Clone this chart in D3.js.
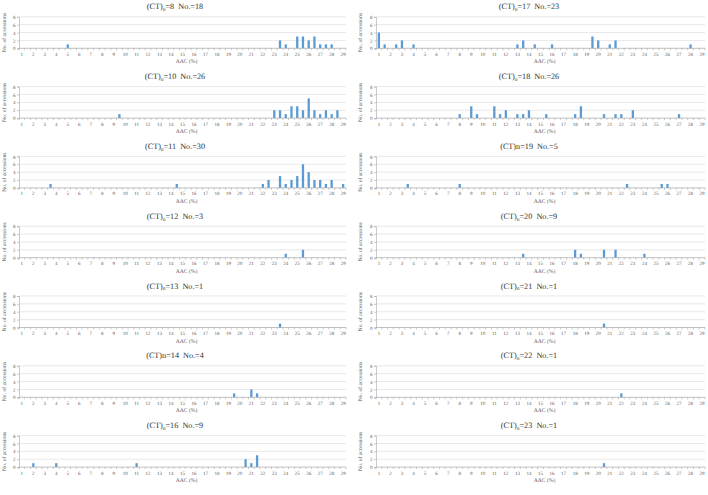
<!DOCTYPE html>
<html>
<head>
<meta charset="utf-8">
<script src="https://cdn.jsdelivr.net/npm/d3@7"></script>
<style>
  body { margin: 0; background: #fff; }
  svg text { font-family: "Liberation Serif", "Times New Roman", serif; }
</style>
</head>
<body>
<div id="chart"></div>
<script>
/** Categories on the x axis: AAC (%) in half-percent steps. */
const AAC = [1, 1.5, 2, 2.5, 3, 3.5, 4, 4.5, 5, 5.5, 6, 6.5, 7, 7.5, 8, 8.5, 9, 9.5,
  10, 10.5, 11, 11.5, 12, 12.5, 13, 13.5, 14, 14.5, 15, 15.5, 16, 16.5, 17, 17.5,
  18, 18.5, 19, 19.5, 20, 20.5, 21, 21.5, 22, 22.5, 23, 23.5, 24, 24.5, 25, 25.5,
  26, 26.5, 27, 27.5, 28, 28.5, 29];

/** Labelled ticks on the x axis. */
const X_TICKS = [1, 2, 3, 4, 5, 6, 7, 8, 9, 10, 11, 12, 13, 14, 15, 16, 17, 18, 19,
  20, 21, 22, 23, 24, 25, 26, 27, 28, 29];

/** Labelled ticks on the y axis. */
const Y_TICKS = [0, 2, 4, 6, 8];

// Number of accessions per AAC value, as [AAC, count] pairs (zeros left out)
const ct8 = [[5, 1], [23.5, 2], [24, 1], [25, 3], [25.5, 3], [26, 2], [26.5, 3], [27, 1], [27.5, 1], [28, 1]];
const ct10 = [[9.5, 1], [23, 2], [23.5, 2], [24, 1], [24.5, 3], [25, 3], [25.5, 2], [26, 5], [26.5, 2],
  [27, 1], [27.5, 2], [28, 1], [28.5, 2]];
const ct11 = [[3.5, 1], [14.5, 1], [22, 1], [22.5, 2], [23.5, 3], [24, 1], [24.5, 2], [25, 3], [25.5, 6],
  [26, 4], [26.5, 2], [27, 2], [27.5, 1], [28, 2], [29, 1]];
const ct12 = [[24, 1], [25.5, 2]];
const ct13 = [[23.5, 1]];
const ct14 = [[19.5, 1], [21, 2], [21.5, 1]];
const ct16 = [[2, 1], [4, 1], [11, 1], [20.5, 2], [21, 1], [21.5, 3]];
const ct17 = [[1, 4], [1.5, 1], [2.5, 1], [3, 2], [4, 1], [13, 1], [13.5, 2], [14.5, 1], [16, 1],
  [19.5, 3], [20, 2], [21, 1], [21.5, 2], [28, 1]];
const ct18 = [[8, 1], [9, 3], [9.5, 1], [11, 3], [11.5, 1], [12, 2], [13, 1], [13.5, 1], [14, 2],
  [15.5, 1], [18, 1], [18.5, 3], [20.5, 1], [21.5, 1], [22, 1], [23, 2], [27, 1]];
const ct19 = [[3.5, 1], [8, 1], [22.5, 1], [25.5, 1], [26, 1]];
const ct20 = [[13.5, 1], [18, 2], [18.5, 1], [20.5, 2], [21.5, 2], [24, 1]];
const ct21 = [[20.5, 1]];
const ct22 = [[22, 1]];
const ct23 = [[20.5, 1]];

/** Panel titles: repeat count, whether "n" is a subscript, and accession count. */
const panels = [
  { n: 8, sub: true, no: 18, data: ct8 },
  { n: 10, sub: true, no: 26, data: ct10 },
  { n: 11, sub: true, no: 30, data: ct11 },
  { n: 12, sub: true, no: 3, data: ct12 },
  { n: 13, sub: true, no: 1, data: ct13 },
  { n: 14, sub: false, no: 4, data: ct14 },
  { n: 16, sub: true, no: 9, data: ct16 },
  { n: 17, sub: true, no: 23, data: ct17 },
  { n: 18, sub: true, no: 26, data: ct18 },
  { n: 19, sub: false, no: 5, data: ct19 },
  { n: 20, sub: true, no: 9, data: ct20 },
  { n: 21, sub: true, no: 1, data: ct21 },
  { n: 22, sub: true, no: 1, data: ct22 },
  { n: 23, sub: true, no: 1, data: ct23 }
];

const WIDTH = 708;
const HEIGHT = 495;
const COL_W = 354;
const ROWS = 7;

/** Zero line of the first row and distance between rows. */
const ZERO0 = 48.3;
const ROW_STEP = 69.8;
const PLOT_H = 31.5;

/** Left and right edge of the plot area inside each column. */
const PLOT_L = [19, 22];
const PLOT_R = [346, 351];

const BAR = "#5b9bd5";
const GRID = "#d9d9d9";
const AXIS = "#a6a6a6";
const TEXT = "#595959";

const svg = d3.select("#chart").append("svg")
    .attr("width", WIDTH)
    .attr("height", HEIGHT)
    .attr("text-rendering", "geometricPrecision");

svg.append("rect")
    .attr("width", WIDTH)
    .attr("height", HEIGHT)
    .attr("fill", "#fff");

panels.forEach((p, k) => {
    const col = Math.floor(k / ROWS);
    const row = k % ROWS;
    const left = col * COL_W;
    const zero = ZERO0 + row * ROW_STEP;

    const x = d3.scaleBand()
        .domain(AAC)
        .range([left + PLOT_L[col], left + PLOT_R[col]])
        .paddingInner(0.6)
        .paddingOuter(0.3);
    const y = d3.scaleLinear()
        .domain([0, 8])
        .range([zero, zero - PLOT_H]);

    const g = svg.append("g");

    // Horizontal gridlines
    g.selectAll(".grid")
        .data(Y_TICKS.slice(1))
        .enter()
        .append("line")
        .attr("x1", x.range()[0])
        .attr("x2", x.range()[1])
        .attr("y1", d => y(d))
        .attr("y2", d => y(d))
        .attr("stroke", GRID)
        .attr("stroke-width", 0.6);

    // Bars
    g.selectAll(".bar")
        .data(p.data)
        .enter()
        .append("rect")
        .attr("x", d => x(d[0]))
        .attr("width", x.bandwidth())
        .attr("y", d => y(d[1]))
        .attr("height", d => y(0) - y(d[1]))
        .attr("fill", BAR);

    // Y axis
    const yAxis = g.append("g")
        .attr("transform", `translate(${x.range()[0]},0)`)
        .call(d3.axisLeft(y).tickValues(Y_TICKS).tickSize(2).tickPadding(1.5));
    yAxis.select(".domain").attr("stroke", AXIS).attr("stroke-width", 0.6);
    yAxis.selectAll(".tick line").attr("stroke", AXIS).attr("stroke-width", 0.6);
    yAxis.selectAll("text")
        .attr("font-size", 5)
        .attr("fill", TEXT)
        .style("font-family", "'Liberation Serif', serif");

    // X axis with labels on the integer categories
    const xAxis = g.append("g")
        .attr("transform", `translate(0,${zero})`)
        .call(d3.axisBottom(x).tickValues(X_TICKS).tickSize(0).tickPadding(4));
    xAxis.select(".domain").remove();
    xAxis.selectAll("text")
        .attr("font-size", 5)
        .attr("fill", TEXT)
        .style("font-family", "'Liberation Serif', serif");

    g.append("line")
        .attr("x1", x.range()[0])
        .attr("x2", x.range()[1])
        .attr("y1", zero)
        .attr("y2", zero)
        .attr("stroke", AXIS)
        .attr("stroke-width", 0.7);

    // Short tick marks between the categories
    g.selectAll(".xtick")
        .data(d3.range(AAC.length + 1))
        .enter()
        .append("line")
        .attr("x1", i => x.range()[0] + i * x.step())
        .attr("x2", i => x.range()[0] + i * x.step())
        .attr("y1", zero)
        .attr("y2", zero + 2)
        .attr("stroke", AXIS)
        .attr("stroke-width", 0.6);

    // Axis titles
    g.append("text")
        .attr("x", (x.range()[0] + x.range()[1]) / 2 + 4)
        .attr("y", zero + 15)
        .attr("text-anchor", "middle")
        .attr("font-size", 5.6)
        .attr("fill", TEXT)
        .text("AAC (%)");

    g.append("text")
        .attr("transform", `translate(${left + (col ? 8 : 6)},${y(4)}) rotate(-90)`)
        .attr("text-anchor", "middle")
        .attr("font-size", 5.6)
        .attr("fill", TEXT)
        .text("No. of accessions");

    // Panel title
    const title = g.append("text")
        .attr("x", left + COL_W / 2 - 2)
        .attr("y", zero - 39)
        .attr("text-anchor", "middle")
        .attr("font-size", 8.2)
        .attr("fill", "#333");
    title.append("tspan").text("(CT)");
    if (p.sub) {
        title.append("tspan").attr("font-size", 5.5).attr("dy", 1.8).text("n");
        title.append("tspan").attr("dy", -1.8).text(`=${p.n}\u00a0\u00a0No.=${p.no}`);
    } else {
        title.append("tspan").text(`n=${p.n}\u00a0\u00a0No.=${p.no}`);
    }
});
</script>
</body>
</html>
